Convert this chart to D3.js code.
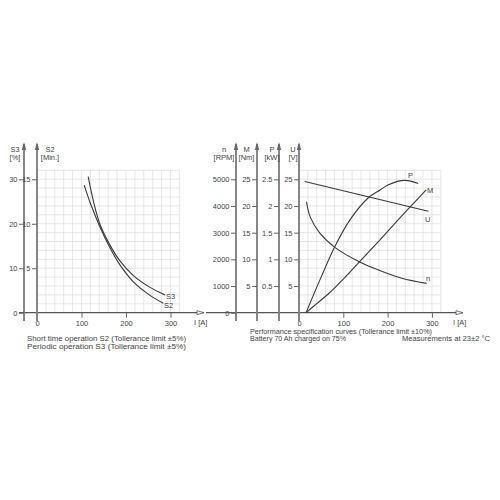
<!DOCTYPE html>
<html>
<head>
<meta charset="utf-8">
<script src="https://cdn.jsdelivr.net/npm/d3@7"></script>
<style>
body { margin: 0; background: #fff; }
svg { font-family: "Liberation Sans", Arial, sans-serif; }
.grid line { stroke: #dcdcdc; stroke-width: 0.7; }
.tick text { fill: #444; font-size: 7.5px; }
.tick line { stroke: #666; }
.curve { fill: none; stroke: #3a3a3a; stroke-width: 1.1; }
.vaxis { stroke: #7a7a7a; stroke-width: 1.8; }
.lbl { fill: #444; font-size: 7.5px; }
.cap { fill: #444; font-size: 7px; }
</style>
</head>
<body>
<div class="container"></div>
<script>
const WIDTH = 500;
const HEIGHT = 500;
const Y0 = 312.7;      // baseline of both charts
const Y_TOP = 179.3;   // top labelled tick (15 min / 25 V)
const CELL = 8.9;

// left chart: S2 (min) and S3 (%) vs current
var s2Current = [106, 120, 141, 164, 186, 216, 254, 284];
var s2Minutes = [14.35, 12.3, 9.7, 7.3, 5.4, 3.5, 1.95, 1.06];
var s3Current = [115, 127, 141, 164, 186, 216, 254, 288];
var s3Percent = [30.6, 25.0, 20.0, 15.2, 11.7, 8.4, 5.7, 4.0];

// right chart: performance curves vs current
var uCurrent = [13, 292];
var uVolts = [24.6, 19.0];
var pCurrent = [16, 47, 81, 115, 156, 183, 202, 239, 269];
var pKw = [0, 0.61, 1.24, 1.74, 2.15, 2.3, 2.4, 2.48, 2.42];
var mCurrent = [16, 40, 66, 100, 136, 179, 217, 254, 287];
var mNm = [0, 1.7, 3.5, 6.3, 9.5, 13.3, 16.8, 20.1, 23.0];
var nCurrent = [17, 25, 47, 81, 136, 181, 232, 288];
var nRpm = [4160, 3600, 2980, 2450, 1910, 1590, 1290, 1100];

var xTicks = [0, 100, 200, 300];
var s3Ticks = [0, 10, 20, 30];
var s2Ticks = [5, 10, 15];
var nTicks = [0, 1000, 2000, 3000, 4000, 5000];
var mTicks = [5, 10, 15, 20, 25];
var pTicks = [0.5, 1, 1.5, 2, 2.5];
var uTicks = [5, 10, 15, 20, 25];

var captionsLeft = ["Short time operation S2 (Tollerance limit \u00b15%)",
                    "Periodic operation S3 (Tollerance limit \u00b15%)"];
var captionsRight = ["Performance specification curves (Tollerance limit \u00b110%)",
                     "Battery 70 Ah charged on 75%"];
var captionMeas = "Measurements at 23\u00b12 \u00b0C";

var translate = function(x, y) {
    return `translate(${x},${y})`;
};

var drawGrid = function(svg, xScale) {
    var g = svg.append('g').classed('grid', true);
    var x0 = xScale(0), x1 = xScale(320);
    var yTop = Y0 - 16 * CELL;
    g.selectAll('.gv').data(d3.range(20, 321, 20)).enter()
        .append('line')
        .attr('x1', (d) => xScale(d)).attr('x2', (d) => xScale(d))
        .attr('y1', yTop).attr('y2', Y0);
    g.selectAll('.gh').data(d3.range(1, 17)).enter()
        .append('line')
        .attr('x1', x0).attr('x2', x1)
        .attr('y1', (d) => Y0 - d * CELL).attr('y2', (d) => Y0 - d * CELL);
};

var drawVAxis = function(svg, x, scale, ticks, title, unit, tx) {
    svg.append('line').classed('vaxis', true)
        .attr('x1', x).attr('x2', x).attr('y1', 144).attr('y2', 321);
    svg.append('path')
        .attr('d', `M${x - 2.2},150 L${x},142 L${x + 2.2},150 Z`)
        .attr('fill', '#666');
    var ax = d3.axisLeft(scale).tickValues(ticks).tickSize(5).tickPadding(1.5)
        .tickFormat((d) => d);
    var g = svg.append('g').attr('transform', translate(x, 0)).call(ax);
    g.select('.domain').remove();
    svg.append('text').classed('lbl', true)
        .attr('x', tx).attr('y', 152).attr('text-anchor', 'middle').text(title);
    svg.append('text').classed('lbl', true)
        .attr('x', tx).attr('y', 159.5).attr('text-anchor', 'middle').text(unit);
};

var drawXAxis = function(svg, xScale, xStart, xEnd) {
    svg.append('line')
        .attr('x1', xStart).attr('x2', xEnd).attr('y1', Y0).attr('y2', Y0)
        .attr('stroke', '#555').attr('stroke-width', 1.2);
    svg.append('path')
        .attr('d', `M${xEnd - 7},${Y0 - 2} L${xEnd},${Y0} L${xEnd - 7},${Y0 + 2} Z`)
        .attr('fill', '#fff').attr('stroke', '#555').attr('stroke-width', 0.8);
    var ax = d3.axisBottom(xScale).tickValues(xTicks).tickSize(5).tickPadding(2.5);
    var g = svg.append('g').attr('transform', translate(0, Y0)).call(ax);
    g.select('.domain').remove();
    g.selectAll('.tick line').filter((d) => d === 0).remove();
    svg.append('text').classed('lbl', true)
        .attr('x', xEnd - 10).attr('y', 325).text('I  [A]');
};

var drawCurve = function(svg, xs, ys, xScale, yScale) {
    var pts = xs.map((d, i) => [d, ys[i]]);
    var line = d3.line()
        .x((d) => xScale(d[0]))
        .y((d) => yScale(d[1]))
        .curve(d3.curveCatmullRom.alpha(0.5));
    svg.append('path').classed('curve', true).attr('d', line(pts));
};

var curveLabel = function(svg, x, y, t) {
    svg.append('text').classed('lbl', true).attr('x', x).attr('y', y).text(t);
};

var fillLayout = function() {
    var svg = d3.select('.container').append('svg')
        .attr('width', WIDTH)
        .attr('height', HEIGHT);

    // ---- left chart ----
    let xLeft = d3.scaleLinear().domain([0, 320]).range([37, 37 + 320 * 0.445]);
    let yS2 = d3.scaleLinear().domain([0, 15]).range([Y0, Y_TOP]);
    let yS3 = d3.scaleLinear().domain([0, 30]).range([Y0, Y_TOP]);

    drawGrid(svg, xLeft);
    drawXAxis(svg, xLeft, 19, 204);
    drawVAxis(svg, 24, yS3, s3Ticks, 'S3', '[%]', 15);
    drawVAxis(svg, 37, yS2, s2Ticks, 'S2', '[Min.]', 50);

    drawCurve(svg, s2Current, s2Minutes, xLeft, yS2);
    drawCurve(svg, s3Current, s3Percent, xLeft, yS3);
    curveLabel(svg, 166, 299, 'S3');
    curveLabel(svg, 164, 308, 'S2');

    captionsLeft.forEach((t, i) => {
        svg.append('text').classed('cap', true)
            .attr('x', 27).attr('y', 340.8 + i * 8.4)
            .attr('textLength', 159).attr('lengthAdjust', 'spacingAndGlyphs')
            .text(t);
    });

    // ---- right chart ----
    let xRight = d3.scaleLinear().domain([0, 320]).range([299, 299 + 320 * 0.443]);
    let yU = d3.scaleLinear().domain([0, 25]).range([Y0, Y_TOP]);
    let yN = d3.scaleLinear().domain([0, 5000]).range([Y0, Y_TOP]);
    let yM = d3.scaleLinear().domain([0, 25]).range([Y0, Y_TOP]);
    let yP = d3.scaleLinear().domain([0, 2.5]).range([Y0, Y_TOP]);

    drawGrid(svg, xRight);
    drawXAxis(svg, xRight, 206, 463);
    drawVAxis(svg, 236, yN, nTicks, 'n', '[RPM]', 224);
    drawVAxis(svg, 257, yM, mTicks, 'M', '[Nm]', 246.5);
    drawVAxis(svg, 279, yP, pTicks, 'P', '[kW]', 272);
    drawVAxis(svg, 299, yU, uTicks, 'U', '[V]', 293);

    drawCurve(svg, uCurrent, uVolts, xRight, yU);
    drawCurve(svg, pCurrent, pKw, xRight, yP);
    drawCurve(svg, mCurrent, mNm, xRight, yM);
    drawCurve(svg, nCurrent, nRpm, xRight, yN);
    curveLabel(svg, 408, 177.5, 'P');
    curveLabel(svg, 427, 193, 'M');
    curveLabel(svg, 425, 222, 'U');
    curveLabel(svg, 426, 281, 'n');

    captionsRight.forEach((t, i) => {
        svg.append('text').classed('cap', true)
            .attr('x', 250).attr('y', 333.5 + i * 7.5)
            .attr('textLength', i === 0 ? 182 : 96).attr('lengthAdjust', 'spacingAndGlyphs')
            .text(t);
    });
    svg.append('text').classed('cap', true)
        .attr('x', 402).attr('y', 341)
        .attr('textLength', 88).attr('lengthAdjust', 'spacingAndGlyphs')
        .text(captionMeas);
};
window.onload = fillLayout;
</script>
</body>
</html>
